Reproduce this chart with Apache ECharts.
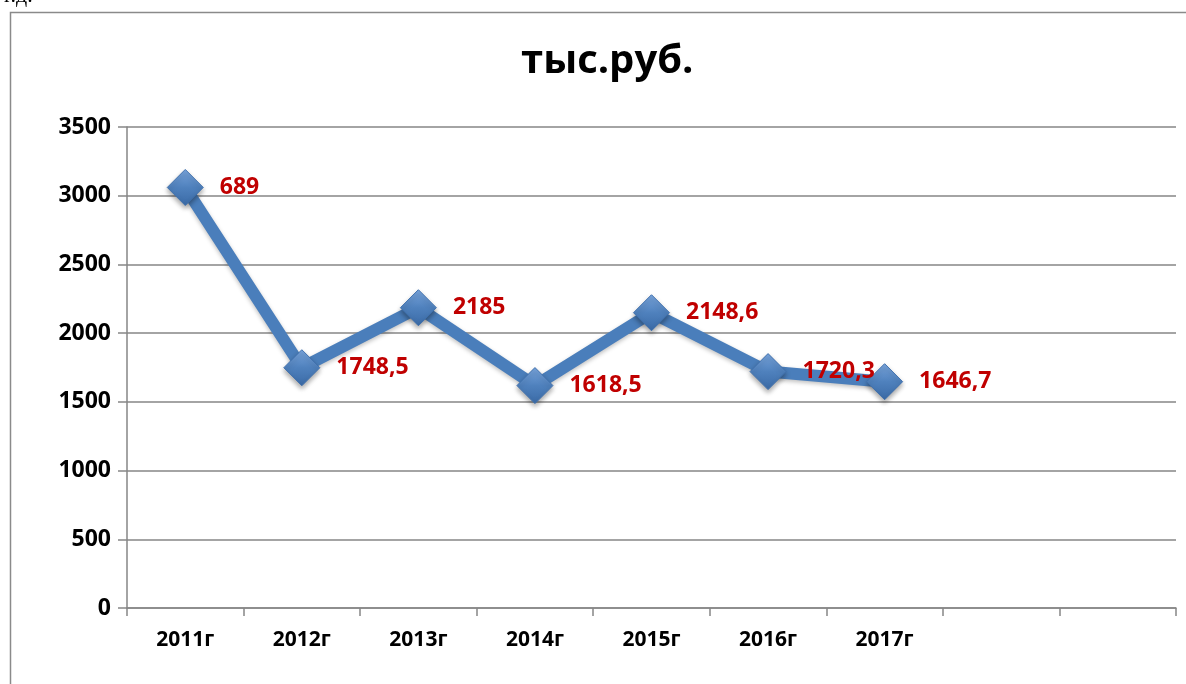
<!DOCTYPE html>
<html><head><meta charset="utf-8">
<script src="https://cdn.jsdelivr.net/npm/echarts@6/dist/echarts.min.js"></script>
<style>html,body{margin:0;padding:0;background:#fff}#c{width:1186px;height:684px}</style>
</head><body><div id="c"></div>
<script>
var titleText = 'тыс.руб.';
var categories = ['2011г','2012г','2013г','2014г','2015г','2016г','2017г','',''];
var values = [3060, 1748.5, 2185, 1618.5, 2148.6, 1720.3, 1646.7];
var pointLabels = ['689','1748,5','2185','1618,5','2148,6','1720,3','1646,7'];
var yTicks = {min:0, max:3500, interval:500};

var chart = echarts.init(document.getElementById('c'));
var font = '"Open Sans", sans-serif';
chart.setOption({
  animation:false,
  title:{text:titleText,left:516,top:37,textStyle:{fontFamily:font,fontWeight:'bold',fontSize:40,color:'#000'}},
  graphic:[
    {type:'rect',left:8,top:10,shape:{width:1200,height:700},style:{fill:'none',stroke:'#8a8a8a',lineWidth:1.5},silent:true},
    {type:'text',left:4,top:-15,style:{text:'г.д.',fontFamily:'"Liberation Serif", serif',fontSize:22,fill:'#000'}}
  ],
  grid:{left:127,right:10,top:127,bottom:76,containLabel:false},
  xAxis:{type:'category',data:categories,boundaryGap:true,
    axisLine:{lineStyle:{color:'#868686',width:1.5}},
    axisTick:{show:true,length:8,lineStyle:{color:'#868686',width:1.5},alignWithLabel:false},
    axisLabel:{fontFamily:font,fontWeight:'bold',fontSize:21,color:'#000',margin:22,interval:0},
    splitLine:{show:false}},
  yAxis:{type:'value',min:yTicks.min,max:yTicks.max,interval:yTicks.interval,
    axisLine:{show:true,lineStyle:{color:'#868686',width:1.5}},
    axisTick:{show:true,length:9,lineStyle:{color:'#868686',width:1.5}},
    axisLabel:{fontFamily:font,fontWeight:'bold',fontSize:23,color:'#000',margin:16,formatter:function(v){return String(v);}},
    splitLine:{show:true,lineStyle:{color:'#868686',width:1.5}}},
  series:[{type:'line',data:values,
    lineStyle:{color:'#4a7ebb',width:12,shadowColor:'rgba(0,0,0,0.25)',shadowBlur:4,shadowOffsetY:2},
    symbol:'diamond',symbolSize:36,
    itemStyle:{color:new echarts.graphic.LinearGradient(0,0,0,1,[{offset:0,color:'#7aa6de'},{offset:0.5,color:'#4f81bd'},{offset:1,color:'#3a6aa6'}]),
      borderColor:'#3f70ad',borderWidth:1,shadowColor:'rgba(0,0,0,0.35)',shadowBlur:5,shadowOffsetY:3},
    label:{show:true,position:'right',distance:16,fontFamily:font,fontWeight:'bold',fontSize:23,color:'#c00000',
      formatter:function(p){return pointLabels[p.dataIndex];}}
  }]
});
</script></body></html>
